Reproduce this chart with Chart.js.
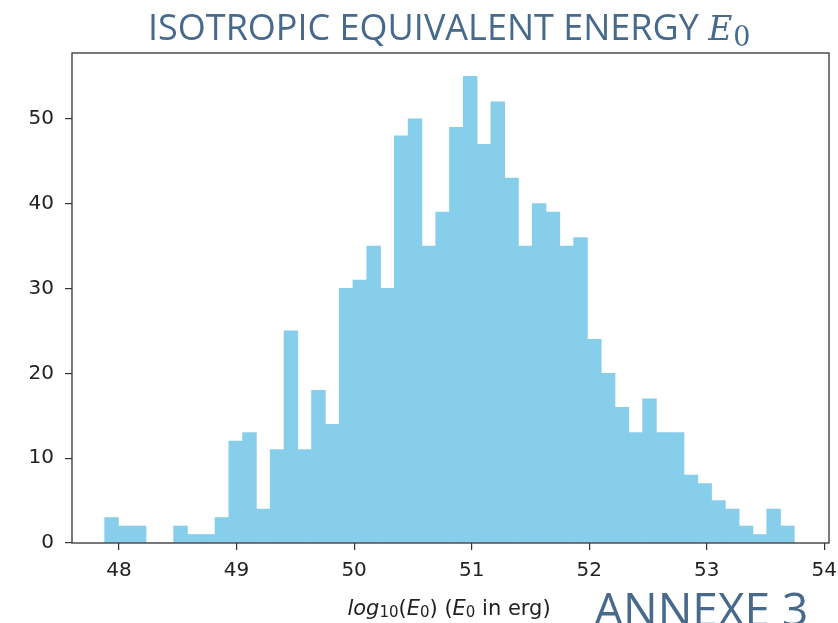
<!DOCTYPE html>
<html>
<head>
<meta charset="utf-8">
<script src="https://cdn.jsdelivr.net/npm/chart.js@4/dist/chart.umd.min.js"></script>
<style>
  html, body { margin: 0; padding: 0; background: #fff; }
  #wrap { width: 838px; height: 623px; position: relative; overflow: hidden; }
</style>
</head>
<body>
<div id="wrap"><canvas id="histChart" width="838" height="623"></canvas></div>
<script>
// histogram of log10(E0), 50 bins
var binStart = 47.878;
var binWidth = 0.11734;
var counts = [3, 2, 2, 0, 0, 2, 1, 1, 3, 12,
              13, 4, 11, 25, 11, 18, 14, 30, 31, 35,
              30, 48, 50, 35, 39, 49, 55, 47, 52, 43,
              35, 40, 39, 35, 36, 24, 20, 16, 13, 17,
              13, 13, 8, 7, 5, 4, 2, 1, 4, 2];
var xTicks = [48, 49, 50, 51, 52, 53, 54];
var yTicks = [0, 10, 20, 30, 40, 50];
var xRange = [47.6, 54.04];
var yMax = 57.75;

var points = counts.map(function (c, i) {
    return { x: binStart + binWidth * (i + 0.5), y: c };
});

var textColor = '#46698c';

// spines on all four sides + titles drawn as text
var decor = {
    id: 'decor',
    afterDraw: function (chart) {
        var ctx = chart.ctx;
        var a = chart.chartArea;
        ctx.save();
        ctx.strokeStyle = '#333';
        ctx.lineWidth = 1.3;
        ctx.strokeRect(a.left, a.top, a.right - a.left, a.bottom - a.top);

        // main title
        ctx.fillStyle = textColor;
        ctx.textBaseline = 'alphabetic';
        ctx.font = '36px "Open Sans"';
        var t = 'ISOTROPIC EQUIVALENT ENERGY ';
        var x = 148;
        ctx.fillText(t, x, 40);
        x += ctx.measureText(t).width;
        ctx.font = 'italic 33px "DejaVu Serif"';
        ctx.fillText('E', x, 40);
        x += ctx.measureText('E').width + 1;
        ctx.font = '27px "DejaVu Serif"';
        ctx.fillText('0', x, 46);

        // x axis label: log10(E0) (E0 in erg)
        var parts = [
            ['italic 21px "DejaVu Sans"', 'log', 0],
            ['15px "DejaVu Sans"', '10', 2],
            ['21px "DejaVu Sans"', '(', 0],
            ['italic 21px "DejaVu Sans"', 'E', 0],
            ['15px "DejaVu Sans"', '0', 2],
            ['21px "DejaVu Sans"', ') (', 0],
            ['italic 21px "DejaVu Sans"', 'E', 0],
            ['15px "DejaVu Sans"', '0', 2],
            ['21px "DejaVu Sans"', ' in erg)', 0]
        ];
        var total = 0;
        parts.forEach(function (p) { ctx.font = p[0]; total += ctx.measureText(p[1]).width; });
        x = 449 - total / 2;
        ctx.fillStyle = '#222';
        parts.forEach(function (p) {
            ctx.font = p[0];
            ctx.fillText(p[1], x, 615 + p[2]);
            x += ctx.measureText(p[1]).width;
        });

        // corner note
        ctx.fillStyle = textColor;
        ctx.font = '46px "Open Sans"';
        ctx.fillText('ANNEXE 3', 594, 626);
        ctx.restore();
    }
};

var ctx = document.getElementById('histChart');

var myChart = new Chart(ctx, {
    type: 'bar',
    data: {
        datasets: [{
            label: 'E0',
            data: points,
            backgroundColor: '#87ceeb',
            borderWidth: 0,
            barPercentage: 1.0,
            categoryPercentage: 1.0
        }]
    },
    options: {
        responsive: false,
        animation: false,
        layout: { padding: { left: 0, top: 53, right: 9, bottom: 0 } },
        plugins: { legend: { display: false }, tooltip: { enabled: false } },
        scales: {
            x: {
                type: 'linear',
                min: xRange[0],
                max: xRange[1],
                offset: false,
                afterBuildTicks: function (scale) {
                    scale.ticks = xTicks.map(function (v) { return { value: v }; });
                },
                afterFit: function (scale) {
                    scale.height = 80;
                    scale.paddingLeft = 0;
                    scale.paddingRight = 0;
                },
                border: { display: false },
                grid: {
                    offset: false,
                    drawOnChartArea: false,
                    drawTicks: true,
                    tickLength: 7,
                    color: '#333',
                    lineWidth: 1.2
                },
                ticks: {
                    color: '#222',
                    font: { family: 'DejaVu Sans', size: 20 },
                    padding: 9,
                    maxRotation: 0
                }
            },
            y: {
                min: 0,
                max: yMax,
                afterBuildTicks: function (scale) {
                    scale.ticks = yTicks.map(function (v) { return { value: v }; });
                },
                afterFit: function (scale) {
                    scale.width = 72;
                    scale.paddingTop = 0;
                    scale.paddingBottom = 0;
                },
                border: { display: false },
                grid: {
                    drawOnChartArea: false,
                    drawTicks: true,
                    tickLength: 7,
                    color: '#333',
                    lineWidth: 1.2
                },
                ticks: {
                    color: '#222',
                    font: { family: 'DejaVu Sans', size: 20 },
                    padding: 11
                }
            }
        }
    },
    plugins: [decor]
});
</script>
</body>
</html>
